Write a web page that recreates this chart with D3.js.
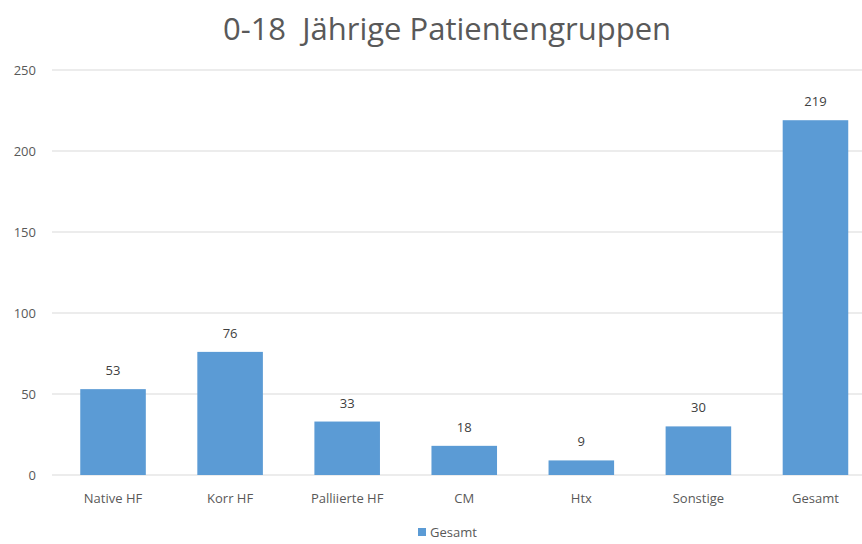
<!DOCTYPE html>
<html>
<head>
<meta charset="utf-8">
<script src="https://cdn.jsdelivr.net/npm/d3@7"></script>
<style>
  body { margin: 0; background: #fff; }
  svg { display: block; font-family: "Open Sans", "Noto Sans", sans-serif; }
</style>
</head>
<body>
<div id="chart"></div>
<script>
// chart data
const categories = ["Native HF", "Korr HF", "Palliierte HF", "CM", "Htx", "Sonstige", "Gesamt"];
const values = [53, 76, 33, 18, 9, 30, 219];
const yTicks = [0, 50, 100, 150, 200, 250];
const seriesName = "Gesamt";
const title = "0-18  Jährige Patientengruppen";

const width = 862;
const height = 544;
const margin = { top: 70, right: -12, bottom: 69, left: 54.5 };

const svg = d3.select("#chart")
  .append("svg")
  .attr("width", width)
  .attr("height", height);

const x = d3.scaleBand()
  .domain(categories)
  .range([margin.left, width - margin.right])
  .paddingInner(0.44)
  .paddingOuter(0.22);

const y = d3.scaleLinear()
  .domain([0, 250])
  .range([height - margin.bottom, margin.top]);

// gridlines
svg.append("g")
  .selectAll("line")
  .data(yTicks)
  .join("line")
  .attr("x1", 52)
  .attr("x2", width)
  .attr("y1", d => y(d))
  .attr("y2", d => y(d))
  .attr("stroke", "#d9d9d9")
  .attr("stroke-width", 1);

// y tick labels
svg.append("g")
  .selectAll("text")
  .data(yTicks)
  .join("text")
  .attr("x", 36)
  .attr("y", d => y(d))
  .attr("dy", "0.35em")
  .attr("text-anchor", "end")
  .attr("fill", "#595959")
  .style("font-size", "13px")
  .text(d => d);

// bars
svg.append("g")
  .selectAll("rect")
  .data(values)
  .join("rect")
  .attr("x", (d, i) => x(categories[i]))
  .attr("y", d => y(d))
  .attr("width", x.bandwidth())
  .attr("height", d => y(0) - y(d))
  .attr("fill", "#5b9bd5");

// value labels
svg.append("g")
  .selectAll("text")
  .data(values)
  .join("text")
  .attr("x", (d, i) => x(categories[i]) + x.bandwidth() / 2)
  .attr("y", d => y(d) - 14)
  .attr("text-anchor", "middle")
  .attr("fill", "#404040")
  .style("font-size", "13px")
  .text(d => d);

// x axis labels
svg.append("g")
  .selectAll("text")
  .data(categories)
  .join("text")
  .attr("x", d => x(d) + x.bandwidth() / 2)
  .attr("y", y(0) + 28)
  .attr("text-anchor", "middle")
  .attr("fill", "#595959")
  .style("font-size", "13px")
  .text(d => d);

// title (double space kept as in the original)
svg.append("text")
  .attr("x", 447)
  .attr("y", 40)
  .attr("text-anchor", "middle")
  .attr("fill", "#595959")
  .style("font-size", "31px")
  .style("white-space", "pre")
  .text(title);

// legend
const legend = svg.append("g").attr("transform", "translate(418, 537)");
legend.append("rect")
  .attr("x", 0)
  .attr("y", -9)
  .attr("width", 8)
  .attr("height", 8)
  .attr("fill", "#5b9bd5");
legend.append("text")
  .attr("x", 12)
  .attr("y", 0)
  .attr("fill", "#595959")
  .style("font-size", "13px")
  .text(seriesName);
</script>
</body>
</html>
